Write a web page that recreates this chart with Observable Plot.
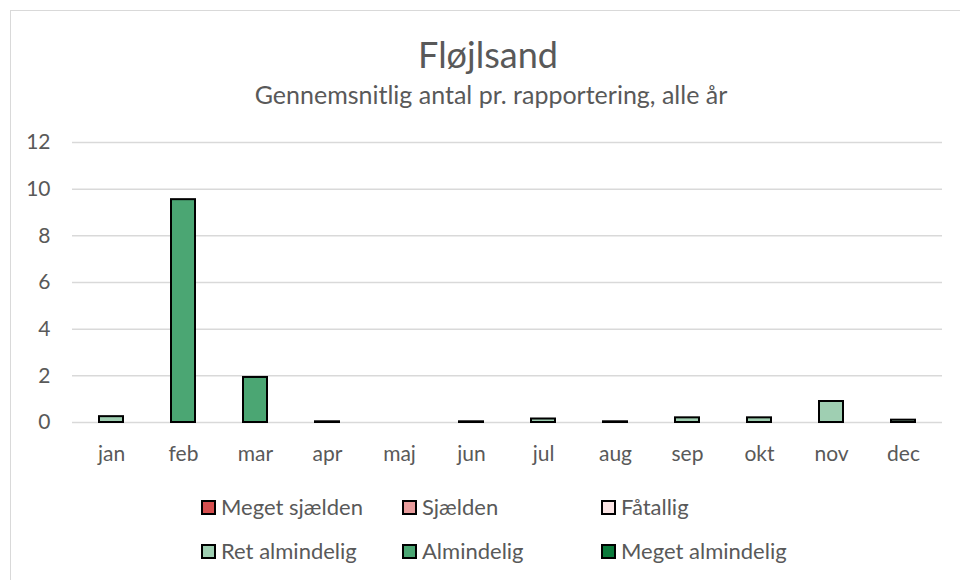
<!DOCTYPE html>
<html>
<head>
<meta charset="utf-8">
<script src="https://cdn.jsdelivr.net/npm/d3@7"></script>
<script src="https://cdn.jsdelivr.net/npm/@observablehq/plot@0.6"></script>
<style>
  body { margin: 0; background: #fff; }
  #wrap { position: relative; width: 960px; height: 580px; overflow: hidden; font-family: Lato, "Open Sans", sans-serif; color: #595959; }
  #frame { position: absolute; left: 10px; top: 10px; width: 980px; height: 600px; border: 1.5px solid #d9d9d9; box-sizing: border-box; }
  #title { position: absolute; left: 0; width: 976px; top: 33px; text-align: center; font-size: 36px; line-height: 42px; }
  #subtitle { position: absolute; left: 0; width: 982px; top: 79px; text-align: center; font-size: 25px; line-height: 30px; }
  #chart { position: absolute; left: 0; top: 120px; }
  .leg { position: absolute; display: flex; align-items: center; font-size: 22px; line-height: 24px; white-space: nowrap; }
  .sw { width: 11px; height: 11px; border: 2px solid #000; margin-right: 5px; box-sizing: content-box; }
</style>
</head>
<body>
<div id="wrap">
  <div id="frame"></div>
  <div id="title">Fløjlsand</div>
  <div id="subtitle">Gennemsnitlig antal pr. rapportering, alle år</div>
  <div id="chart"></div>
  <div id="legend"></div>
</div>
<script>
const months = ["jan","feb","mar","apr","maj","jun","jul","aug","sep","okt","nov","dec"];
const values = [0.25, 9.55, 1.93, 0.03, 0, 0.03, 0.15, 0.03, 0.2, 0.2, 0.9, 0.1];
const categories = ["Ret almindelig","Almindelig","Almindelig","Ret almindelig","Ret almindelig","Ret almindelig","Ret almindelig","Ret almindelig","Ret almindelig","Ret almindelig","Ret almindelig","Ret almindelig"];
const legendNames = ["Meget sjælden","Sjælden","Fåtallig","Ret almindelig","Almindelig","Meget almindelig"];
const legendColors = ["#d64f4f","#e89c9c","#fbe4e4","#9fcfb2","#4ba673","#0b7a3b"];
const yTicks = [0, 2, 4, 6, 8, 10, 12];

const data = months.map((m, i) => ({month: m, value: values[i], cat: categories[i]}));

const chart = Plot.plot({
  width: 960,
  height: 360,
  marginTop: 22,
  marginBottom: 58,
  marginLeft: 72,
  marginRight: 18,
  style: {fontFamily: 'Lato, "Open Sans", sans-serif', fontSize: "21px", color: "#595959", background: "transparent"},
  x: {domain: months, paddingInner: 0.66, paddingOuter: 0.33, label: null},
  y: {domain: [0, 12], label: null},
  color: {domain: legendNames, range: legendColors},
  marks: [
    Plot.ruleY(yTicks, {stroke: "#d9d9d9", strokeWidth: 1.5}),
    Plot.barY(data, {x: "month", y: "value", fill: "cat", stroke: "#000", strokeWidth: 2}),
    Plot.axisX({tickSize: 0, tickPadding: 24, fontSize: 21}),
    Plot.axisY({ticks: yTicks, tickSize: 0, tickPadding: 22, fontSize: 21})
  ]
});
document.getElementById("chart").appendChild(chart);

const legPos = [[201,495],[402,495],[601,495],[201,539],[402,539],[601,539]];
const leg = document.getElementById("legend");
legendNames.forEach((n, i) => {
  const d = document.createElement("div");
  d.className = "leg";
  d.style.left = legPos[i][0] + "px";
  d.style.top = legPos[i][1] + "px";
  const s = document.createElement("div");
  s.className = "sw";
  s.style.background = legendColors[i];
  d.appendChild(s);
  const t = document.createElement("span");
  t.textContent = n;
  d.appendChild(t);
  leg.appendChild(d);
});
</script>
</body>
</html>
